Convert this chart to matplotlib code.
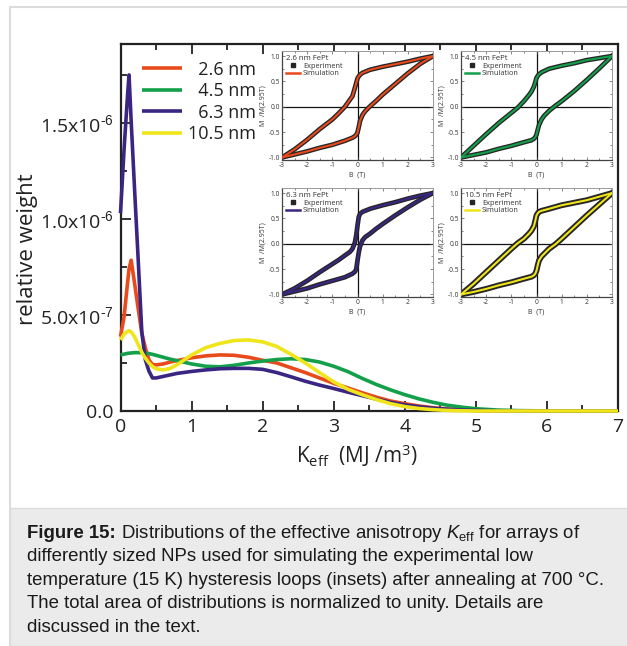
import numpy as np
import matplotlib
matplotlib.use("Agg")
import matplotlib.pyplot as plt
from matplotlib.lines import Line2D
from matplotlib.patches import Rectangle
from matplotlib.ticker import MultipleLocator, FixedLocator, FixedFormatter

plt.rcParams['font.family'] = ['Open Sans', 'DejaVu Sans']
plt.rcParams['mathtext.fontset'] = 'custom'
plt.rcParams['mathtext.rm'] = 'Liberation Sans'
plt.rcParams['mathtext.it'] = 'Liberation Sans:italic'
plt.rcParams['mathtext.bf'] = 'Liberation Sans:bold'
plt.rcParams['axes.unicode_minus'] = False

# ---------------- anisotropy distributions (relative weight, units of 1e-7) -------------
k_eff = [0, 0.05, 0.1, 0.12, 0.15, 0.2, 0.25, 0.3, 0.35, 0.4, 0.45, 0.5, 0.6, 0.7, 0.8,
         1.0, 1.2, 1.4, 1.6, 1.8, 2.0, 2.2, 2.4, 2.6, 2.8, 3.0, 3.2, 3.4, 3.6, 3.8,
         4.0, 4.2, 4.4, 4.6, 4.8, 5.0, 5.3, 5.6, 6.0, 6.5, 7.0]
weight_26 = [3.87, 4.9, 6.7, 7.4, 7.85, 6.6, 5.3, 4.05, 3.28, 2.66, 2.42, 2.4, 2.45, 2.55, 2.63,
             2.77, 2.87, 2.92, 2.9, 2.8, 2.64, 2.5, 2.25, 2.0, 1.72, 1.44, 1.2, 0.95, 0.72, 0.52,
             0.38, 0.26, 0.17, 0.1, 0.06, 0.03, 0.01, 0, 0, 0, 0]
weight_45 = [2.92, 2.96, 3.0, 3.01, 3.02, 3.04, 3.04, 3.03, 3.02, 2.99, 2.95, 2.9, 2.8, 2.7, 2.62,
             2.45, 2.33, 2.3, 2.38, 2.5, 2.6, 2.68, 2.72, 2.68, 2.55, 2.33, 2.05, 1.7, 1.38, 1.1,
             0.85, 0.63, 0.45, 0.3, 0.2, 0.12, 0.05, 0.02, 0.005, 0, 0]
weight_63 = [10.3, 13.6, 16.5, 17.5, 15.1, 11.4, 7.8, 4.1, 2.66, 2.08, 1.72, 1.72, 1.8, 1.88, 1.96,
             2.06, 2.14, 2.2, 2.22, 2.22, 2.17, 2.0, 1.78, 1.55, 1.35, 1.17, 0.98, 0.8, 0.62, 0.45,
             0.32, 0.22, 0.14, 0.09, 0.05, 0.03, 0.01, 0, 0, 0, 0]
weight_105 = [3.7, 4.0, 4.15, 4.18, 4.12, 3.85, 3.45, 3.05, 2.75, 2.5, 2.32, 2.2, 2.14, 2.22, 2.42,
              2.92, 3.3, 3.52, 3.67, 3.7, 3.6, 3.36, 2.95, 2.5, 2.0, 1.52, 1.13, 0.85, 0.6, 0.38,
              0.23, 0.13, 0.07, 0.03, 0.01, 0, 0, 0, 0, 0, 0]
WEIGHT_UNIT = 1e-7

sizes = ["2.6 nm", "4.5 nm", "6.3 nm", "10.5 nm"]
colors = ["#e84a1c", "#14a04b", "#3a2583", "#efe51a"]

# ---------------- hysteresis loops at 15 K (M / M(2.95 T)) ----------------
field_down = [3, 2.5, 2, 1.5, 1, 0.5, 0.2, 0.1, 0.05, 0, -0.05, -0.1, -0.2, -0.3, -0.5,
              -0.75, -1, -1.5, -2, -2.5, -3]
field_up = [-3, -2.5, -2, -1.5, -1, -0.5, -0.2, -0.1, -0.05, 0, 0.05, 0.1, 0.2, 0.3, 0.5,
            0.75, 1, 1.5, 2, 2.5, 3]

m_down_26 = [1.0, 0.95, 0.89, 0.84, 0.79, 0.73, 0.67, 0.63, 0.60, 0.56, 0.47, 0.38, 0.21, 0.14,
             0.0, -0.13, -0.25, -0.44, -0.65, -0.84, -1.0]
m_up_26 = [-1.0, -0.94, -0.88, -0.81, -0.75, -0.67, -0.61, -0.58, -0.55, -0.51, -0.40, -0.28,
           -0.16, -0.09, 0.01, 0.12, 0.24, 0.45, 0.66, 0.85, 1.0]
m_down_45 = [1.0, 0.96, 0.92, 0.86, 0.81, 0.75, 0.68, 0.64, 0.61, 0.57, 0.48, 0.40, 0.30, 0.23,
             0.11, -0.02, -0.12, -0.32, -0.54, -0.77, -1.0]
m_up_45 = [-1.0, -0.95, -0.90, -0.83, -0.77, -0.70, -0.66, -0.63, -0.60, -0.55, -0.45, -0.36,
           -0.25, -0.18, -0.08, 0.02, 0.11, 0.31, 0.53, 0.76, 1.0]
m_down_63 = [1.0, 0.95, 0.89, 0.82, 0.76, 0.69, 0.63, 0.59, 0.53, 0.36, 0.17, 0.03, -0.10, -0.16,
             -0.23, -0.32, -0.40, -0.56, -0.73, -0.88, -1.0]
m_up_63 = [-1.0, -0.94, -0.88, -0.80, -0.73, -0.66, -0.59, -0.55, -0.50, -0.33, -0.17, -0.05,
           0.07, 0.13, 0.20, 0.30, 0.39, 0.56, 0.72, 0.87, 1.0]
m_down_105 = [1.0, 0.93, 0.86, 0.81, 0.76, 0.69, 0.65, 0.63, 0.60, 0.56, 0.45, 0.35, 0.26, 0.20,
              0.10, 0.01, -0.10, -0.33, -0.56, -0.79, -1.0]
m_up_105 = [-1.0, -0.95, -0.89, -0.82, -0.76, -0.69, -0.65, -0.62, -0.59, -0.53, -0.42, -0.33,
            -0.25, -0.20, -0.10, -0.01, 0.10, 0.33, 0.56, 0.78, 1.0]

loop_titles = ["2.6 nm FePt", "4.5 nm FePt", "6.3 nm FePt", "10.5 nm FePt"]

W, H = 627, 646
fig = plt.figure(figsize=(W / 100, H / 100), dpi=100)


def frac_box(left, top, right, bottom):
    return [left / W, 1 - bottom / H, (right - left) / W, (bottom - top) / H]


# page panel and caption box
fig.patches.append(Rectangle((10 / W, 0), 1.2, (H - 7) / H, transform=fig.transFigure,
                             facecolor="white", edgecolor="#dcdcdc", lw=1.5, zorder=-10))
fig.patches.append(Rectangle((10 / W, 0), 1.2, (H - 508) / H, transform=fig.transFigure,
                             facecolor="#ebebeb", edgecolor="#dcdcdc", lw=1.0, zorder=-9))

# ---------------- main axes ----------------
ax = fig.add_axes(frac_box(120.5, 44, 618, 411))
ax.set_facecolor("none")
weights = [weight_26, weight_45, weight_63, weight_105]
for lab, col, w in zip(sizes, colors, weights):
    ax.plot(k_eff, np.asarray(w) * WEIGHT_UNIT, color=col, lw=2.6, label="\u2007" * (7 - len(lab)) + lab,
            clip_on=False, zorder=3, solid_capstyle="butt")

ax.set_xlim(0, 7)
ax.set_ylim(0, 1.911e-6)
ax.xaxis.set_major_locator(MultipleLocator(1))
ax.xaxis.set_minor_locator(MultipleLocator(0.5))
ax.yaxis.set_major_locator(FixedLocator([0, 5e-7, 1e-6, 1.5e-6]))
ax.yaxis.set_major_formatter(FixedFormatter([
    "0.0", r"5.0x10$^{\text{-7}}$", r"1.0x10$^{\text{-6}}$", r"1.5x10$^{\text{-6}}$"]))
ax.yaxis.set_minor_locator(MultipleLocator(2.5e-7))
ax.tick_params(which="both", direction="in", top=True, right=False, width=1.3, colors="#222")
ax.tick_params(which="major", length=7, labelsize=14, pad=5, labelcolor="#222")
ax.tick_params(which="minor", length=4)
for s in ax.spines.values():
    s.set_linewidth(1.6)
    s.set_color("#222")
ax.set_xlabel(r"K$_{\mathregular{eff}}$  (MJ /m$^{\mathregular{3}}$)", fontsize=15, color="#222")
ax.xaxis.set_label_coords(0.475, -0.085)
ax.set_ylabel("relative weight", fontsize=16, color="#222")
ax.yaxis.set_label_coords(-0.165, 0.441)
leg = ax.legend(loc="upper left", bbox_to_anchor=(0.043, 0.955), frameon=False, fontsize=13,
                handlelength=2.2, handletextpad=0.35, labelspacing=0.2, borderpad=0, borderaxespad=0)
for t in leg.get_texts():
    t.set_color("#222")

# ---------------- inset loops ----------------
inset_boxes = [(282, 51, 433, 160), (461, 51, 612, 160), (282, 188, 433, 297), (461, 188, 612, 297)]
downs = [m_down_26, m_down_45, m_down_63, m_down_105]
ups = [m_up_26, m_up_45, m_up_63, m_up_105]
exp_widths = [3.4, 3.4, 3.4, 4.2]
for box, title, col, md, mu, ew in zip(inset_boxes, loop_titles, colors, downs, ups, exp_widths):
    ia = fig.add_axes(frac_box(*box))
    ia.set_facecolor("white")
    ia.axhline(0, color="#111", lw=0.9, zorder=1)
    ia.axvline(0, color="#111", lw=0.9, zorder=1)
    # measured loop
    ia.plot(field_down, md, color="#262626", lw=ew, zorder=2, solid_joinstyle="round")
    ia.plot(field_up, mu, color="#262626", lw=ew, zorder=2, solid_joinstyle="round")
    # simulated loop
    ia.plot(field_down, md, color=col, lw=1.5, zorder=3)
    ia.plot(field_up, mu, color=col, lw=1.5, zorder=3)
    ia.set_xlim(-3, 3)
    ia.set_ylim(-1.05, 1.1)
    ia.set_xticks(range(-3, 4))
    ia.set_yticks([-1.0, -0.5, 0.0, 0.5, 1.0])
    ia.set_yticklabels(["-1.0", "-0.5", "0.0", "0.5", "1.0"])
    ia.xaxis.set_minor_locator(MultipleLocator(0.5))
    ia.yaxis.set_minor_locator(MultipleLocator(0.25))
    ia.tick_params(which="both", direction="in", top=True, right=True, width=0.5,
                   colors="#555", labelsize=4.8, pad=1.5, labelcolor="#333")
    ia.tick_params(which="major", length=2.5)
    ia.tick_params(which="minor", length=1.5)
    for side, s in ia.spines.items():
        s.set_linewidth(0.9 if side in ("left", "bottom") else 0.7)
        s.set_color("#444" if side in ("left", "bottom") else "#9a9a9a")
    ia.set_xlabel("B  (T)", fontsize=5, labelpad=2, color="#333")
    ia.set_ylabel("M  /M(2.95T)", fontsize=5, labelpad=1.5, color="#333")
    handles = [Line2D([], [], ls="none", marker="s", ms=2.6, color="#262626"),
               Line2D([], [], color=col, lw=1.8)]
    lg = ia.legend(handles, ["Experiment", "Simulation"], title=title, loc="upper left",
                   frameon=False, fontsize=5.3, title_fontsize=5.6, alignment="left",
                   handlelength=1.9, handletextpad=0.4, labelspacing=0.05,
                   borderpad=0.25, borderaxespad=0.3)
    lg.get_title().set_color("#333")
    for t in lg.get_texts():
        t.set_color("#333")

# ---------------- caption ----------------
cap_font = dict(family="Liberation Sans", fontsize=13.4, color="#1a1a1a", va="baseline")
fig.canvas.draw()
renderer = fig.canvas.get_renderer()
x0 = 27 / W
baselines = [537.7 + 23.5 * i for i in range(5)]
t0 = fig.text(x0, 1 - baselines[0] / H, "Figure 15:", weight="bold", **cap_font)
bb = t0.get_window_extent(renderer)
fig.text(bb.x1 / W, 1 - baselines[0] / H,
         r" Distributions of the effective anisotropy $K_{\mathregular{eff}}$ for arrays of", **cap_font)
caption_rest = [
    "differently sized NPs used for simulating the experimental low",
    "temperature (15 K) hysteresis loops (insets) after annealing at 700 \u00b0C.",
    "The total area of distributions is normalized to unity. Details are",
    "discussed in the text.",
]
for line, yb in zip(caption_rest, baselines[1:]):
    fig.text(x0, 1 - yb / H, line, **cap_font)

fig.savefig("out.png", dpi=100)
